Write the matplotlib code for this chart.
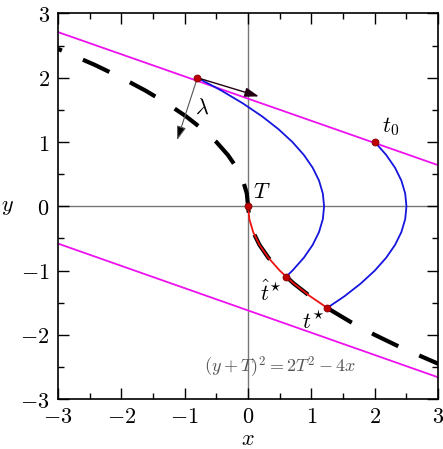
import numpy as np
import matplotlib
matplotlib.use("Agg")
import matplotlib.pyplot as plt
from matplotlib.ticker import FuncFormatter, MultipleLocator

plt.rcParams['mathtext.fontset'] = 'cm'
plt.rcParams['font.family'] = 'serif'
plt.rcParams['font.serif'] = ['DejaVu Serif']

# magenta boundary lines
upper_x = [-3.0, 3.0]
upper_y = [2.71, 0.64]
lower_x = [-3.0, 3.0]
lower_y = [-0.58, -2.66]

# dashed switching curve
switch_y = [2.5, 2.2, 2.0, 1.8, 1.6, 1.4, 1.2, 1.0, 0.8, 0.6, 0.4, 0.2, 0.0,
            -0.2, -0.4, -0.6, -0.8, -1.0, -1.2, -1.4, -1.6, -1.8, -2.0, -2.2, -2.5]
switch_x = [-3.12, -2.42, -2.0, -1.62, -1.28, -0.98, -0.72, -0.5, -0.32, -0.18, -0.08, -0.02, 0.0,
            0.02, 0.08, 0.18, 0.32, 0.5, 0.72, 0.98, 1.28, 1.62, 2.0, 2.42, 3.12]

# blue trajectories
blue1_y = [2.0, 1.8, 1.6, 1.4, 1.2, 1.0, 0.8, 0.6, 0.4, 0.2, 0.0,
           -0.2, -0.4, -0.6, -0.8, -1.0, -1.1]
blue1_x = [-0.8, -0.42, -0.08, 0.22, 0.48, 0.70, 0.88, 1.02, 1.12, 1.18, 1.20,
           1.18, 1.12, 1.02, 0.88, 0.70, 0.595]
blue2_y = [1.0, 0.8, 0.6, 0.4, 0.2, 0.0, -0.2, -0.4, -0.6, -0.8, -1.0, -1.2, -1.4, -1.58]
blue2_x = [2.0, 2.18, 2.32, 2.42, 2.48, 2.5, 2.48, 2.42, 2.32, 2.18, 2.0, 1.78, 1.52, 1.25]

# red optimal arc
red_y = [0.0, -0.2, -0.4, -0.6, -0.8, -1.0, -1.2, -1.4, -1.58]
red_x = [0.0, 0.02, 0.08, 0.18, 0.32, 0.5, 0.72, 0.98, 1.25]

# marked points
pts_x = [-0.8, 2.0, 0.0, 0.6, 1.25]
pts_y = [2.0, 1.0, 0.0, -1.1, -1.58]

fig = plt.figure(figsize=(4.43, 4.49), dpi=100)
ax = fig.add_axes([0.131, 0.111, 0.858, 0.859])

ax.axhline(0, color='#777777', lw=1.0, zorder=1)
ax.axvline(0, color='#777777', lw=1.0, zorder=1)

ax.plot(upper_x, upper_y, color='#ee11ee', lw=1.3, zorder=2)
ax.plot(lower_x, lower_y, color='#ee11ee', lw=1.3, zorder=2)
ax.plot(switch_x, switch_y, color='black', lw=3.0, linestyle=(4, (7, 5.5)), zorder=3)
ax.plot(blue1_x, blue1_y, color='#1515dd', lw=1.3, zorder=4)
ax.plot(blue2_x, blue2_y, color='#1515dd', lw=1.3, zorder=4)
ax.plot(red_x, red_y, color='#ee1111', lw=1.3, zorder=5)
ax.plot(pts_x, pts_y, 'o', ms=5, mfc='#c00000', mec='#800000', mew=0.6, zorder=6)

ax.annotate('', xy=(0.17, 1.71), xytext=(-0.8, 2.0),
            arrowprops=dict(arrowstyle='-|>,head_length=0.6,head_width=0.2',
                            color='#220011', lw=1.0, shrinkA=0, shrinkB=0,
                            mutation_scale=14), zorder=5)
ax.annotate('', xy=(-1.12, 1.03), xytext=(-0.8, 2.0),
            arrowprops=dict(arrowstyle='-|>,head_length=0.6,head_width=0.2',
                            color='#555555', lw=0.8, shrinkA=0, shrinkB=0,
                            mutation_scale=14, fc='black', ec='#555555'), zorder=5)

fs = 16
ax.text(-0.73, 1.53, r'$\lambda$', fontsize=fs, ha='center', va='center')
ax.text(0.22, 0.22, r'$T$', fontsize=fs, ha='center', va='center')
ax.text(2.25, 1.24, r'$t_0$', fontsize=fs, ha='center', va='center')
ax.text(0.35, -1.35, r'$\hat{t}^{\star}$', fontsize=fs, ha='center', va='center')
ax.text(1.03, -1.82, r'$t^{\star}$', fontsize=fs, ha='center', va='center')
ax.text(0.5, -2.5, r'$(y+T)^2=2T^2-4x$', fontsize=13, color='#555555',
        ha='center', va='center')

ax.set_xlim(-3, 3)
ax.set_ylim(-3, 3)
ax.xaxis.set_major_locator(MultipleLocator(1))
ax.yaxis.set_major_locator(MultipleLocator(1))
ax.xaxis.set_minor_locator(MultipleLocator(0.5))
ax.yaxis.set_minor_locator(MultipleLocator(0.5))
fmt = FuncFormatter(lambda v, p: r'$%d$' % round(v))
ax.xaxis.set_major_formatter(fmt)
ax.yaxis.set_major_formatter(fmt)
ax.tick_params(which='both', direction='in', top=True, right=True,
               labelsize=fs, pad=6, width=1.0)
ax.tick_params(axis='x', which='major', pad=5)
ax.tick_params(which='major', length=8)
ax.tick_params(which='minor', length=4.5)
for s in ax.spines.values():
    s.set_linewidth(1.2)

ax.set_xlabel(r'$x$', fontsize=fs, labelpad=0)
ax.set_ylabel(r'$y$', fontsize=fs, rotation=0, labelpad=9, va='center')

fig.savefig('out.png', dpi=100)
